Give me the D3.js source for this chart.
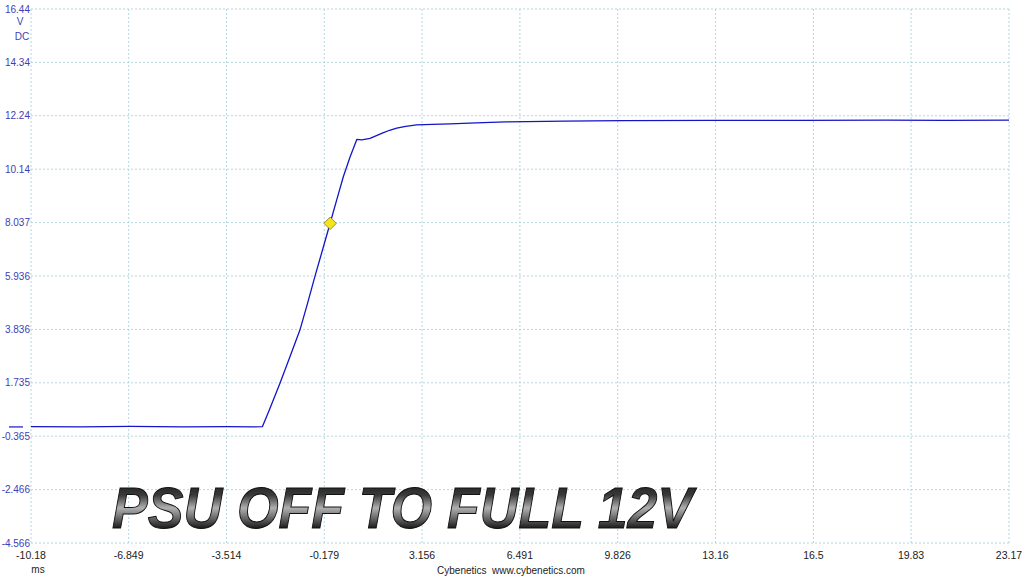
<!DOCTYPE html>
<html><head><meta charset="utf-8">
<script src="https://cdn.jsdelivr.net/npm/d3@7"></script>
<style>
html,body{margin:0;padding:0;background:#fff;}
svg{display:block;}
</style></head>
<body>
<svg id="chart" width="1024" height="576"></svg>
<script>
// ---- data ----
const xTickLabels = ["-10.18","-6.849","-3.514","-0.179","3.156","6.491","9.826","13.16","16.5","19.83","23.17"];
const yTickLabels = ["16.44","14.34","12.24","10.14","8.037","5.936","3.836","1.735","-0.365","-2.466","-4.566"];
const timeMs  = [-10.18,-8.5,-6.8,-5.0,-3.5,-2.6,-2.29,-2.05,-1.69,-1.35,-1.01,-0.75,-0.50,-0.24,0.02,0.25,0.47,0.70,0.93,1.10,1.38,1.60,1.82,2.05,2.29,2.60,2.97,3.50,4.11,5.0,6.0,8.0,10.0,13.0,16.0,19.0,21.0,23.17];
const voltage = [0.01,0.00,0.02,0.00,0.01,0.00,0.01,0.68,1.72,2.76,3.81,4.86,5.91,6.96,8.01,8.95,9.84,10.62,11.31,11.29,11.35,11.46,11.57,11.67,11.75,11.82,11.88,11.90,11.92,11.96,12.00,12.03,12.05,12.06,12.06,12.07,12.06,12.07];
const marker = {t: 0.02, v: 8.01};
const title = "PSU OFF TO FULL 12V";

// ---- layout ----
const svg = d3.select("#chart");
const x = d3.scaleLinear().domain([-10.18, 23.17]).range([31, 1009]);
const y = d3.scaleLinear().domain([-4.566, 16.44]).range([543, 9]);
const xTickVals = xTickLabels.map(Number);
const yTickVals = yTickLabels.map(Number);

const gridColor = "#b6d6df";
const labelBlue = "#3d3db8";
const lineBlue = "#1414c8";

// grid
svg.append("g").selectAll("line").data(yTickVals).join("line")
  .attr("x1", x.range()[0]).attr("x2", x.range()[1])
  .attr("y1", d => y(d)).attr("y2", d => y(d))
  .attr("stroke", gridColor).attr("stroke-width", 1).attr("stroke-dasharray", "2,2");
svg.append("g").selectAll("line").data(xTickVals).join("line")
  .attr("x1", d => x(d)).attr("x2", d => x(d))
  .attr("y1", y.range()[1]).attr("y2", y.range()[0])
  .attr("stroke", gridColor).attr("stroke-width", 1).attr("stroke-dasharray", "2,2");

// y labels
svg.append("g").selectAll("text").data(yTickLabels).join("text")
  .attr("x", 30).attr("y", d => y(+d) + 3.5)
  .attr("text-anchor", "end")
  .attr("font-family", "Liberation Sans, Arial, sans-serif").attr("font-size", 10)
  .attr("fill", labelBlue).text(d => d);
svg.append("text").attr("x", 20).attr("y", 25).attr("text-anchor", "middle")
  .attr("font-family", "Liberation Sans, Arial, sans-serif").attr("font-size", 10)
  .attr("fill", labelBlue).text("V");
svg.append("text").attr("x", 22).attr("y", 40).attr("text-anchor", "middle")
  .attr("font-family", "Liberation Sans, Arial, sans-serif").attr("font-size", 10)
  .attr("fill", labelBlue).text("DC");

// x labels
svg.append("g").selectAll("text").data(xTickLabels).join("text")
  .attr("x", d => x(+d)).attr("y", 559)
  .attr("text-anchor", "middle")
  .attr("font-family", "Liberation Sans, Arial, sans-serif").attr("font-size", 10.5)
  .attr("fill", "#222").text(d => d);
svg.append("text").attr("x", 38).attr("y", 573).attr("text-anchor", "middle")
  .attr("font-family", "Liberation Sans, Arial, sans-serif").attr("font-size", 10)
  .attr("fill", "#222").text("ms");
svg.append("text").attr("x", 511).attr("y", 574).attr("text-anchor", "middle")
  .attr("font-family", "Liberation Sans, Arial, sans-serif").attr("font-size", 10)
  .attr("fill", "#222").attr("xml:space", "preserve").text("Cybenetics  www.cybenetics.com");

// zero-level marker
svg.append("line").attr("x1", 9).attr("x2", 23).attr("y1", y(0)).attr("y2", y(0))
  .attr("stroke", lineBlue).attr("stroke-width", 1.2);

// trace
const data = timeMs.map((t, i) => ({t, v: voltage[i]}));
svg.append("path").datum(data)
  .attr("fill", "none").attr("stroke", lineBlue).attr("stroke-width", 1.3)
  .attr("stroke-linejoin", "round")
  .attr("d", d3.line().x(d => x(d.t)).y(d => y(d.v)));

// marker diamond
svg.append("path")
  .attr("d", d3.symbol().type(d3.symbolDiamond2).size(100)())
  .attr("transform", `translate(${x(marker.t)},${y(marker.v)})`)
  .attr("fill", "#f2e41e").attr("stroke", "#8a7a10").attr("stroke-width", 0.8);

// title with metallic gradient
const defs = svg.append("defs");
const g = defs.append("linearGradient").attr("id", "metal").attr("x1", 0).attr("y1", 0).attr("x2", 0).attr("y2", 1);
[[0,"#111"],[0.3,"#3a3a3a"],[0.5,"#b0b0b0"],[0.62,"#7a7a7a"],[0.8,"#222"],[1,"#050505"]]
  .forEach(([o,c]) => g.append("stop").attr("offset", o).attr("stop-color", c));
svg.append("text").attr("x", 112).attr("y", 528)
  .attr("font-family", "Liberation Sans, Arial, sans-serif")
  .attr("font-size", 57).attr("font-weight", "bold").attr("font-style", "italic")
  .attr("textLength", 581).attr("lengthAdjust", "spacingAndGlyphs")
  .attr("fill", "url(#metal)").attr("stroke", "#111").attr("stroke-width", 1)
  .text(title);
</script>
</body></html>
